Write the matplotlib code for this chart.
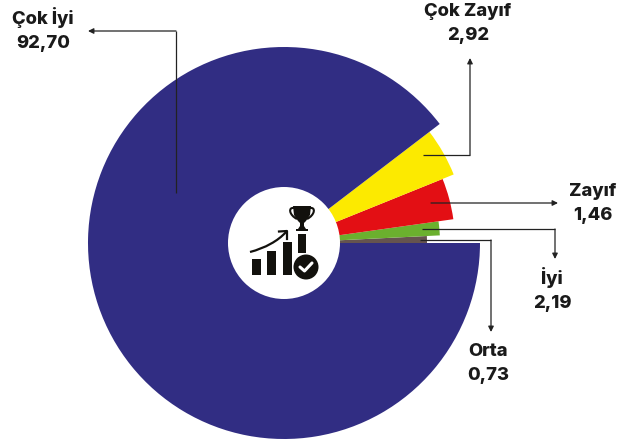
import matplotlib
matplotlib.use('Agg')
import matplotlib.pyplot as plt
from matplotlib.patches import Wedge, Circle, Rectangle, Polygon, PathPatch
from matplotlib.path import Path

# values printed on the chart, slices start at 3 o'clock and go anticlockwise
labels = ['Orta', 'İyi', 'Zayıf', 'Çok Zayıf', 'Çok İyi']
values = ['0,73', '2,19', '1,46', '2,92', '92,70']
# the drawn slices are not proportional to the values, so spans are read from the picture
spans = [2.8, 5.2, 14.0, 15.4, 322.6]
outer = [143, 156, 171, 183, 196]
colors = ['#65534f', '#6bb02e', '#e30f14', '#fcea00', '#312d83']

CX, CY, HOLE = 284, 243, 56
INK = '#12110d'

fig = plt.figure(figsize=(6.17, 4.43), dpi=100)
ax = fig.add_axes([0, 0, 1, 1])
ax.set_xlim(0, 617)
ax.set_ylim(443, 0)  # pixel coords, y down
ax.axis('off')

start = 0
for span, r, c in zip(spans, outer, colors):
    # y axis is flipped so negative angles go up on screen
    ax.add_patch(Wedge((CX, CY), r, -(start + span), -start, fc=c, ec='none', zorder=1))
    start += span
ax.add_patch(Circle((CX, CY), HOLE, fc='white', ec='none', zorder=2))

# leader lines: polyline plus arrow head at the end
leaders = [
    [(176, 193), (176, 31), (88, 31)],
    [(423, 155), (470, 155), (470, 58)],
    [(431, 203), (558, 203)],
    [(422, 229), (555, 229), (555, 259)],
    [(420, 240), (491, 240), (491, 332)],
]
for pts in leaders:
    xs = [p[0] for p in pts[:-1]]
    ys = [p[1] for p in pts[:-1]]
    ax.plot(xs, ys, color='#222222', lw=0.9, solid_capstyle='butt', zorder=3)
    ax.annotate('', xy=pts[-1], xytext=pts[-2],
                arrowprops=dict(arrowstyle='-|>', color='#222222', lw=0.9, mutation_scale=8,
                                shrinkA=0, shrinkB=0), zorder=3)

# text blocks, label above value
text_pos = {
    'Çok İyi': (43, 17, 43),
    'Çok Zayıf': (468, 11, 35),
    'Zayıf': (593, 191, 215),
    'İyi': (552, 277, 303),
    'Orta': (488, 351, 375),
}
font = ['Inter', 'DejaVu Sans']
for lab, val in zip(labels, values):
    x, y1, y2 = text_pos[lab]
    ax.text(x, y1, lab, family=font, weight='heavy', fontsize=13.2, color='#1a1a1a', ha='center', va='center')
    ax.text(x, y2, val, family=font, weight='heavy', fontsize=13.2, color='#1a1a1a', ha='center', va='center')

# icon in the hole: rising bars
for x0, y0, x1, y1 in [(251.5, 259, 260.5, 274.5), (267, 251, 276, 274.5), (282.5, 242, 291.5, 274.5), (298, 234, 306, 253)]:
    ax.add_patch(Rectangle((x0, y0), x1 - x0, y1 - y0, fc=INK, ec='none', zorder=4))

# arrow over the bars
curve = Path([(250, 252), (265, 248), (278, 241), (286, 232)], [Path.MOVETO, Path.CURVE4, Path.CURVE4, Path.CURVE4])
ax.add_patch(PathPatch(curve, fc='none', ec=INK, lw=1.6, zorder=4))
ax.plot([279, 287, 287], [231.5, 231, 239], color=INK, lw=1.6, zorder=4)

# check badge
ax.add_patch(Circle((306, 267), 12.5, fc=INK, ec='none', zorder=4))
ax.plot([300, 304.5, 312], [267, 271, 263], color='white', lw=2.2, solid_capstyle='round', solid_joinstyle='round', zorder=5)

# trophy
ax.add_patch(Polygon([(293, 206), (311, 206), (310, 215), (306, 221), (304, 223), (304, 226), (306, 229),
                      (298, 229), (300, 226), (300, 223), (298, 221), (294, 215)], fc=INK, ec='none', zorder=4))
ax.add_patch(Rectangle((296, 229), 12, 2.4, fc=INK, ec='none', zorder=4))
handle_l = Path([(294, 208), (288, 207), (289, 215), (297, 219)], [Path.MOVETO, Path.CURVE4, Path.CURVE4, Path.CURVE4])
handle_r = Path([(310, 208), (316, 207), (315, 215), (307, 219)], [Path.MOVETO, Path.CURVE4, Path.CURVE4, Path.CURVE4])
ax.add_patch(PathPatch(handle_l, fc='none', ec=INK, lw=1.5, zorder=4))
ax.add_patch(PathPatch(handle_r, fc='none', ec=INK, lw=1.5, zorder=4))

fig.savefig('out.png', dpi=100)
